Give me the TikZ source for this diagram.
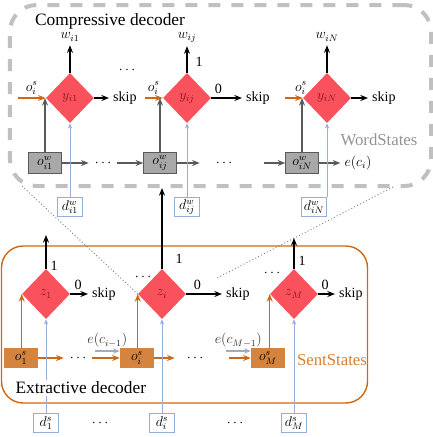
\documentclass[tikz,border=0pt]{standalone}
\usepackage{fontspec}
\setmainfont{Liberation Serif}
\usetikzlibrary{arrows.meta, positioning, calc, shapes.geometric}
\definecolor{gatered}{RGB}{250,82,92}
\definecolor{gatetext}{RGB}{140,20,30}
\definecolor{sentfill}{RGB}{212,132,62}
\definecolor{sentline}{RGB}{205,105,20}
\definecolor{wordfill}{RGB}{168,168,168}
\definecolor{wordline}{RGB}{90,90,90}
\definecolor{docblue}{RGB}{150,175,215}
\definecolor{framegray}{RGB}{192,192,192}
\definecolor{embgray}{RGB}{165,172,185}
\tikzset{
  gate/.style={diamond, fill=gatered, text=gatetext, minimum width=1.44cm, minimum height=1.5cm, inner sep=0pt},
  wstate/.style={draw=wordline, fill=wordfill, minimum width=0.99cm, minimum height=0.63cm, inner sep=0pt},
  sstate/.style={fill=sentfill, minimum width=1.02cm, minimum height=0.6cm, inner sep=0pt},
  docbox/.style={draw=docblue, fill=white, minimum width=0.75cm, minimum height=0.57cm, inner sep=0pt},
  dotsnode/.style={inner sep=5pt},
  frametitle/.style={font=\fontsize{14.8}{17}\selectfont},
  arr/.style={-{Stealth[length=2.3mm, width=1.8mm]}, line width=1.2pt},
  oarr/.style={-{Stealth[length=2.3mm, width=1.8mm]}, sentline, line width=1pt},
  warr/.style={-{Stealth[length=2.3mm, width=1.8mm]}, wordline, line width=1pt},
  darr/.style={-{Stealth[length=1.6mm, width=1.3mm]}, docblue, line width=0.8pt},
  earr/.style={-{Stealth[length=2mm, width=1.6mm]}, embgray, line width=1pt},
  zoomline/.style={dotted, gray, line width=0.8pt},
  elabel/.style={above=2pt, inner sep=0.5pt, text=black!80},
}

\begin{document}
\begin{tikzpicture}[x=0.03cm, y=-0.03cm, font=\fontsize{12}{14}\selectfont]
  \useasboundingbox (0,0) rectangle (433,437);

  % frames
  \node[draw=framegray, line width=0.12cm, dash pattern=on 0.36cm off 0.33cm,
    rounded corners=0.8cm, minimum width=12.63cm, minimum height=5.43cm] (comp) at (220.5,95.5) {};
  \node[draw=sentline, line width=1.2pt, rounded corners=0.65cm,
    minimum width=10.98cm, minimum height=4.71cm] (extr) at (184.5,324.5) {};

  \coordinate (cl) at (22,186);
  \coordinate (cr) at (393,187);

  % compressive decoder
  \node[gate] (yi1) at (70,98) {$y_{i1}$};
  \node[gate] (yij) at (187,98) {$y_{ij}$};
  \node[gate] (yiN) at (327,98) {$y_{iN}$};
  \node (wi1) at (70,37) {$w_{i1}$};
  \node (wij) at (187,37) {$w_{ij}$};
  \node (wiN) at (327,37) {$w_{iN}$};
  \node[anchor=west] (skipy1) at (109,98) {skip};
  \node[anchor=west] (skipyj) at (242,98) {skip};
  \node[anchor=west] (skipyN) at (368,98) {skip};
  \node[dotsnode] (dy) at (127,70) {$\cdots$};

  \node[wstate] (owi1) at (45,163) {$o^w_{i1}$};
  \node[wstate] (owij) at (160,163) {$o^w_{ij}$};
  \node[wstate] (owiN) at (302,163) {$o^w_{iN}$};
  \node[dotsnode] (dw1) at (103,163) {$\cdots$};
  \node[dotsnode] (dw2) at (224,163) {$\cdots$};
  \node (eci) at (358,163) {$e(c_i)$};

  \node[docbox] (dwi1) at (70,207) {$d^w_{i1}$};
  \node[docbox] (dwij) at (187,207) {$d^w_{ij}$};
  \node[docbox] (dwiN) at (314,207) {$d^w_{iN}$};

  \draw[arr] (yi1) -- (wi1);
  \draw[arr] (yij) -- node[pos=0.4, right=0.12cm] {1} (wij);
  \draw[arr] (yiN) -- (wiN);
  \draw[arr] (yi1) -- (skipy1);
  \draw[arr] (yij) -- node[pos=0.23, above] {0} (skipyj);
  \draw[arr] (yiN) -- (skipyN);

  \draw[oarr] ([xshift=-0.84cm]yi1.west) -- node[elabel, text=black] {$o_i^s$} (yi1.west);
  \draw[oarr] ([xshift=-0.54cm]yij.west) -- node[elabel, text=black] {$o_i^s$} (yij.west);
  \draw[oarr] ([xshift=-0.54cm]yiN.west) -- node[pos=0.9, elabel, text=black] {$o_i^s$} (yiN.west);

  \draw[warr] (owi1.north) -- (owi1.north |- yi1.west);
  \draw[warr] (owij.north) -- (owij.north |- yij.west);
  \draw[warr] (owiN.north) -- (owiN.north |- yiN.west);
  \draw[warr] (owi1) -- (dw1);
  \draw[warr] (dw1) -- (owij);
  \draw[warr, shorten >=0.3cm] (owij) -- (dw2);
  \draw[warr, shorten <=0.78cm] (dw2) -- (owiN);
  \draw[warr] (owiN) -- (eci);

  \draw[darr] (dwi1) -- (yi1);
  \draw[darr] (dwij) -- (yij);
  \draw[darr] (dwiN.north -| yiN.south) -- (yiN.south);

  \node[frametitle, anchor=west] (ctitle) at (31,21) {Compressive decoder};
  \node[font=\fontsize{14.3}{17}\selectfont, text=gray!85] (wst) at (379,140) {WordStates};

  % extractive decoder
  \node[gate] (z1) at (46,294) {$z_1$};
  \node[gate] (zi) at (162,294) {$z_i$};
  \node[gate] (zM) at (294,294) {$z_M$};
  \coordinate (t1) at (46,235);
  \coordinate (tM) at (294,238);
  \node[anchor=west] (skipz1) at (88,294) {skip};
  \node[anchor=west] (skipzi) at (222,294) {skip};
  \node[anchor=west] (skipzM) at (335,294) {skip};
  \node[dotsnode] (dz1) at (143,277) {$\cdots$};
  \node[dotsnode] (dz2) at (272,273) {$\cdots$};

  \node[sstate] (o1s) at (21,358) {$o_1^s$};
  \node[sstate] (ois) at (137,358) {$o_i^s$};
  \node[sstate] (oMs) at (268,358) {$o_M^s$};
  \node[dotsnode] (ds1) at (78,358) {$\cdots$};
  \node[dotsnode] (ds2) at (195,358) {$\cdots$};

  \node[docbox] (d1s) at (46,423) {$d_1^s$};
  \node[docbox] (dis) at (162,423) {$d_i^s$};
  \node[docbox] (dMs) at (294,423) {$d_M^s$};
  \node (dd1) at (100,423) {$\cdots$};
  \node (dd2) at (235,423) {$\cdots$};

  \draw[zoomline] (cl) -- (zi.west);
  \draw[zoomline, shorten >=1.05cm] (cr) -- (zi.east);

  \draw[arr] (z1) -- node[pos=0.1, right] {1} (t1);
  \draw[arr] (zi) -- node[pos=0.12, right=0.27cm] {1} (zi |- comp.south);
  \draw[arr] (zM) -- node[pos=0.25, right] {1} (tM);
  \draw[arr] (z1) -- node[pos=0.44, above] {0} (skipz1);
  \draw[arr] (zi) -- node[pos=0.31, above] {0} (skipzi);
  \draw[arr] (zM) -- node[pos=0.41, above] {0} (skipzM);

  \draw[oarr] (z1.west |- o1s.north) -- (z1.west);
  \draw[oarr] (zi.west |- ois.north) -- (zi.west);
  \draw[oarr] (zM.west |- oMs.north) -- (zM.west);
  \draw[oarr] (o1s) -- (ds1);
  \draw[oarr] (ds1) -- (ois);
  \draw[oarr, shorten >=0.18cm] (ois) -- (ds2);
  \draw[oarr, shorten <=0.6cm] (ds2) -- (oMs);
  \draw[earr] ([shift={(-0.75cm,0.21cm)}]ois.west) -- node[elabel] {$e(c_{i-1})$} ([yshift=0.21cm]ois.west);
  \draw[earr] ([shift={(-0.75cm,0.21cm)}]oMs.west) -- node[elabel] {$e(c_{M-1})$} ([yshift=0.21cm]oMs.west);

  \draw[darr] (d1s) -- (z1);
  \draw[darr] (dis) -- (zi);
  \draw[darr] (dMs) -- (zM);

  \node[frametitle, anchor=west, fill=white, inner sep=2pt] (etitle) at (13,388) {Extractive decoder};
  \node[font=\fontsize{14.3}{17}\selectfont, text=sentline!85] (sst) at (332,360) {SentStates};
\end{tikzpicture}
\end{document}
